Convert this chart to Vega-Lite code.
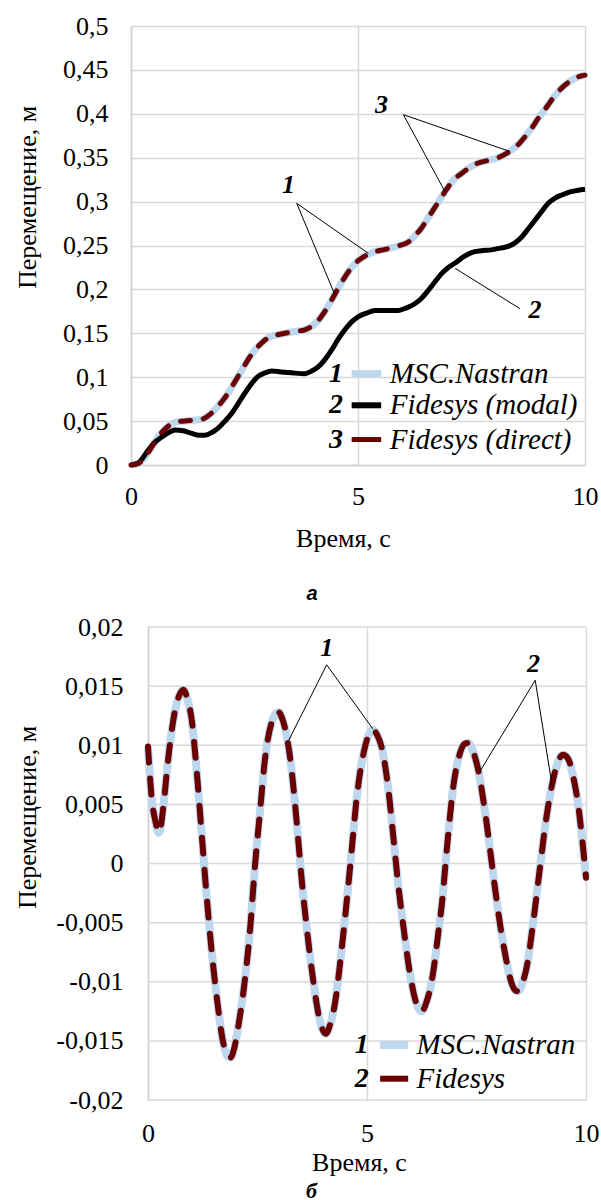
{
"$schema":"https://vega.github.io/schema/vega-lite/v6.json",
"background":"white",
"padding":{"left":14,"top":13,"right":0,"bottom":0},
"config":{
 "font":"Liberation Serif",
 "view":{"stroke":null},
 "style":{"guide-label":{"font":"Liberation Serif"},"guide-title":{"font":"Liberation Serif"}},
 "axis":{"labelFont":"Liberation Serif","labelFontSize":26,"labelColor":"#000000","titleFont":"Liberation Serif","titleFontSize":26,"titleFontWeight":"normal","titleColor":"#000000","ticks":false,"gridColor":"#d9d9d9","gridWidth":1.5,"domainColor":"#d0d0d0","domainWidth":1.5,"labelFlush":false,"labelOverlap":false}
},
"datasets":{
 "top13":[
  {"t":0,"nastran":0,"direct":0},{"t":0.15,"nastran":0.0015,"direct":0.0015},{"t":0.31,"nastran":0.009,"direct":0.009},{"t":0.45,"nastran":0.02,"direct":0.02},{"t":0.6,"nastran":0.032,"direct":0.032},{"t":0.75,"nastran":0.041,"direct":0.041},{"t":0.9,"nastran":0.047,"direct":0.047},{"t":1.05,"nastran":0.0495,"direct":0.0495},{"t":1.19,"nastran":0.05,"direct":0.05},{"t":1.37,"nastran":0.051,"direct":0.051},{"t":1.56,"nastran":0.052,"direct":0.052},{"t":1.7,"nastran":0.056,"direct":0.056},{"t":1.85,"nastran":0.063,"direct":0.063},{"t":2.0,"nastran":0.072,"direct":0.072},{"t":2.14,"nastran":0.082,"direct":0.082},{"t":2.29,"nastran":0.095,"direct":0.095},{"t":2.44,"nastran":0.108,"direct":0.108},{"t":2.58,"nastran":0.12,"direct":0.12},{"t":2.73,"nastran":0.131,"direct":0.131},{"t":2.88,"nastran":0.139,"direct":0.139},{"t":3.02,"nastran":0.145,"direct":0.145},{"t":3.2,"nastran":0.148,"direct":0.148},{"t":3.39,"nastran":0.15,"direct":0.15},{"t":3.6,"nastran":0.152,"direct":0.152},{"t":3.83,"nastran":0.154,"direct":0.154},{"t":3.98,"nastran":0.158,"direct":0.158},{"t":4.13,"nastran":0.165,"direct":0.165},{"t":4.27,"nastran":0.175,"direct":0.175},{"t":4.42,"nastran":0.188,"direct":0.188},{"t":4.56,"nastran":0.201,"direct":0.201},{"t":4.71,"nastran":0.214,"direct":0.214},{"t":4.86,"nastran":0.225,"direct":0.225},{"t":5.01,"nastran":0.233,"direct":0.233},{"t":5.19,"nastran":0.239,"direct":0.239},{"t":5.37,"nastran":0.243,"direct":0.243},{"t":5.55,"nastran":0.245,"direct":0.245},{"t":5.74,"nastran":0.2475,"direct":0.2475},{"t":5.92,"nastran":0.25,"direct":0.25},{"t":6.11,"nastran":0.254,"direct":0.254},{"t":6.25,"nastran":0.261,"direct":0.261},{"t":6.4,"nastran":0.27,"direct":0.27},{"t":6.55,"nastran":0.282,"direct":0.282},{"t":6.7,"nastran":0.294,"direct":0.294},{"t":6.85,"nastran":0.306,"direct":0.306},{"t":6.99,"nastran":0.317,"direct":0.317},{"t":7.13,"nastran":0.326,"direct":0.326},{"t":7.28,"nastran":0.332,"direct":0.332},{"t":7.46,"nastran":0.339,"direct":0.339},{"t":7.65,"nastran":0.344,"direct":0.344},{"t":7.87,"nastran":0.347,"direct":0.347},{"t":8.09,"nastran":0.35,"direct":0.35},{"t":8.24,"nastran":0.354,"direct":0.354},{"t":8.39,"nastran":0.359,"direct":0.359},{"t":8.53,"nastran":0.365,"direct":0.365},{"t":8.68,"nastran":0.374,"direct":0.374},{"t":8.83,"nastran":0.384,"direct":0.384},{"t":8.97,"nastran":0.395,"direct":0.395},{"t":9.16,"nastran":0.408,"direct":0.408},{"t":9.34,"nastran":0.421,"direct":0.421},{"t":9.52,"nastran":0.431,"direct":0.431},{"t":9.7,"nastran":0.438,"direct":0.438},{"t":9.85,"nastran":0.442,"direct":0.442},{"t":10,"nastran":0.444,"direct":0.444}
 ],
 "top2":[
  {"t":0,"modal":0},{"t":0.15,"modal":0.002},{"t":0.38,"modal":0.017},{"t":0.53,"modal":0.026},{"t":0.68,"modal":0.032},{"t":0.83,"modal":0.037},{"t":0.97,"modal":0.04},{"t":1.15,"modal":0.039},{"t":1.34,"modal":0.036},{"t":1.5,"modal":0.034},{"t":1.63,"modal":0.034},{"t":1.78,"modal":0.037},{"t":1.92,"modal":0.042},{"t":2.07,"modal":0.05},{"t":2.22,"modal":0.059},{"t":2.36,"modal":0.07},{"t":2.51,"modal":0.082},{"t":2.66,"modal":0.093},{"t":2.8,"modal":0.101},{"t":2.95,"modal":0.105},{"t":3.1,"modal":0.107},{"t":3.3,"modal":0.106},{"t":3.54,"modal":0.105},{"t":3.83,"modal":0.104},{"t":3.98,"modal":0.107},{"t":4.13,"modal":0.112},{"t":4.27,"modal":0.12},{"t":4.42,"modal":0.131},{"t":4.56,"modal":0.143},{"t":4.71,"modal":0.154},{"t":4.86,"modal":0.163},{"t":5.01,"modal":0.169},{"t":5.19,"modal":0.173},{"t":5.37,"modal":0.176},{"t":5.6,"modal":0.176},{"t":5.89,"modal":0.176},{"t":6.07,"modal":0.179},{"t":6.26,"modal":0.184},{"t":6.4,"modal":0.19},{"t":6.55,"modal":0.199},{"t":6.7,"modal":0.209},{"t":6.84,"modal":0.218},{"t":6.99,"modal":0.225},{"t":7.14,"modal":0.23},{"t":7.32,"modal":0.237},{"t":7.5,"modal":0.242},{"t":7.72,"modal":0.244},{"t":7.94,"modal":0.245},{"t":8.13,"modal":0.247},{"t":8.31,"modal":0.249},{"t":8.46,"modal":0.253},{"t":8.61,"modal":0.26},{"t":8.75,"modal":0.269},{"t":8.9,"modal":0.279},{"t":9.05,"modal":0.289},{"t":9.19,"modal":0.298},{"t":9.34,"modal":0.304},{"t":9.49,"modal":0.3075},{"t":9.67,"modal":0.311},{"t":9.85,"modal":0.313},{"t":10,"modal":0.314}
 ],
 "topann":[
  {"x1":3.65,"y1":0.298,"x2":4.49,"y2":0.194},{"x1":3.65,"y1":0.298,"x2":5.23,"y2":0.241},
  {"x1":6.0,"y1":0.399,"x2":6.92,"y2":0.311},{"x1":6.0,"y1":0.399,"x2":8.35,"y2":0.357},
  {"x1":8.57,"y1":0.178,"x2":7.14,"y2":0.224}
 ],
 "toplab":[{"n":"1","x":3.47,"y":0.319},{"n":"3","x":5.52,"y":0.41},{"n":"2","x":8.9,"y":0.177}],
 "topleg":[{"k":"1","label":"MSC.Nastran","y":0.104},{"k":"2","label":"Fidesys (modal)","y":0.068},{"k":"3","label":"Fidesys (direct)","y":0.029}],
 "botgrid":[{"y":-0.02},{"y":-0.015},{"y":-0.01},{"y":-0.005},{"y":0},{"y":0.005},{"y":0.01},{"y":0.015},{"y":0.02}],
 "bot":[
  {"t":0,"nastran":0.0099,"fidesys":0.0099},{"t":0.08,"nastran":0.0057,"fidesys":0.0057},{"t":0.18,"nastran":0.0034,"fidesys":0.0034},{"t":0.24,"nastran":0.0026,"fidesys":0.0026},{"t":0.3,"nastran":0.0033,"fidesys":0.0033},{"t":0.35,"nastran":0.0048,"fidesys":0.0048},{"t":0.46,"nastran":0.0088,"fidesys":0.0088},{"t":0.54,"nastran":0.0112,"fidesys":0.0112},{"t":0.62,"nastran":0.013,"fidesys":0.013},{"t":0.71,"nastran":0.0142,"fidesys":0.0142},{"t":0.81,"nastran":0.0147,"fidesys":0.0147},{"t":0.9,"nastran":0.0139,"fidesys":0.0139},{"t":1.0,"nastran":0.0121,"fidesys":0.0121},{"t":1.11,"nastran":0.0079,"fidesys":0.0079},{"t":1.23,"nastran":0.0023,"fidesys":0.0023},{"t":1.34,"nastran":-0.0028,"fidesys":-0.0028},{"t":1.45,"nastran":-0.0073,"fidesys":-0.0073},{"t":1.57,"nastran":-0.0113,"fidesys":-0.0113},{"t":1.72,"nastran":-0.0152,"fidesys":-0.0152},{"t":1.8,"nastran":-0.0162,"fidesys":-0.0162},{"t":1.89,"nastran":-0.0164,"fidesys":-0.0164},{"t":1.97,"nastran":-0.0156,"fidesys":-0.0156},{"t":2.06,"nastran":-0.0138,"fidesys":-0.0138},{"t":2.21,"nastran":-0.0099,"fidesys":-0.0099},{"t":2.33,"nastran":-0.0056,"fidesys":-0.0056},{"t":2.44,"nastran":-0.0003,"fidesys":-0.0003},{"t":2.56,"nastran":0.0045,"fidesys":0.0045},{"t":2.67,"nastran":0.0088,"fidesys":0.0088},{"t":2.82,"nastran":0.0119,"fidesys":0.0119},{"t":2.9,"nastran":0.0126,"fidesys":0.0126},{"t":2.98,"nastran":0.0128,"fidesys":0.0128},{"t":3.07,"nastran":0.0122,"fidesys":0.0122},{"t":3.17,"nastran":0.0107,"fidesys":0.0107},{"t":3.26,"nastran":0.0085,"fidesys":0.0085},{"t":3.39,"nastran":0.0037,"fidesys":0.0037},{"t":3.51,"nastran":-0.0014,"fidesys":-0.0014},{"t":3.62,"nastran":-0.0053,"fidesys":-0.0053},{"t":3.74,"nastran":-0.009,"fidesys":-0.009},{"t":3.89,"nastran":-0.0127,"fidesys":-0.0127},{"t":3.97,"nastran":-0.0139,"fidesys":-0.0139},{"t":4.06,"nastran":-0.0144,"fidesys":-0.0144},{"t":4.16,"nastran":-0.0136,"fidesys":-0.0136},{"t":4.27,"nastran":-0.0118,"fidesys":-0.0118},{"t":4.42,"nastran":-0.0073,"fidesys":-0.0073},{"t":4.54,"nastran":-0.0031,"fidesys":-0.0031},{"t":4.65,"nastran":0.0011,"fidesys":0.0011},{"t":4.76,"nastran":0.0054,"fidesys":0.0054},{"t":4.92,"nastran":0.0093,"fidesys":0.0093},{"t":5.03,"nastran":0.0108,"fidesys":0.0108},{"t":5.14,"nastran":0.0113,"fidesys":0.0113},{"t":5.24,"nastran":0.0108,"fidesys":0.0108},{"t":5.33,"nastran":0.0099,"fidesys":0.0099},{"t":5.49,"nastran":0.0062,"fidesys":0.0062},{"t":5.6,"nastran":0.0023,"fidesys":0.0023},{"t":5.71,"nastran":-0.0017,"fidesys":-0.0017},{"t":5.83,"nastran":-0.0053,"fidesys":-0.0053},{"t":5.98,"nastran":-0.0093,"fidesys":-0.0093},{"t":6.1,"nastran":-0.0115,"fidesys":-0.0115},{"t":6.18,"nastran":-0.0123,"fidesys":-0.0123},{"t":6.25,"nastran":-0.0125,"fidesys":-0.0125},{"t":6.35,"nastran":-0.0118,"fidesys":-0.0118},{"t":6.48,"nastran":-0.0099,"fidesys":-0.0099},{"t":6.55,"nastran":-0.0082,"fidesys":-0.0082},{"t":6.63,"nastran":-0.0058,"fidesys":-0.0058},{"t":6.71,"nastran":-0.0034,"fidesys":-0.0034},{"t":6.82,"nastran":0.0011,"fidesys":0.0011},{"t":6.97,"nastran":0.0065,"fidesys":0.0065},{"t":7.12,"nastran":0.0093,"fidesys":0.0093},{"t":7.22,"nastran":0.0101,"fidesys":0.0101},{"t":7.31,"nastran":0.0102,"fidesys":0.0102},{"t":7.42,"nastran":0.0095,"fidesys":0.0095},{"t":7.54,"nastran":0.0079,"fidesys":0.0079},{"t":7.69,"nastran":0.0045,"fidesys":0.0045},{"t":7.85,"nastran":0.0,"fidesys":0.0},{"t":8.0,"nastran":-0.0042,"fidesys":-0.0042},{"t":8.15,"nastran":-0.0076,"fidesys":-0.0076},{"t":8.3,"nastran":-0.0101,"fidesys":-0.0101},{"t":8.38,"nastran":-0.0107,"fidesys":-0.0107},{"t":8.45,"nastran":-0.0108,"fidesys":-0.0108},{"t":8.55,"nastran":-0.0101,"fidesys":-0.0101},{"t":8.65,"nastran":-0.0087,"fidesys":-0.0087},{"t":8.8,"nastran":-0.0048,"fidesys":-0.0048},{"t":8.95,"nastran":-0.0003,"fidesys":-0.0003},{"t":9.1,"nastran":0.004,"fidesys":0.004},{"t":9.25,"nastran":0.0071,"fidesys":0.0071},{"t":9.37,"nastran":0.0087,"fidesys":0.0087},{"t":9.48,"nastran":0.0092,"fidesys":0.0092},{"t":9.6,"nastran":0.0088,"fidesys":0.0088},{"t":9.71,"nastran":0.0073,"fidesys":0.0073},{"t":9.8,"nastran":0.0055,"fidesys":0.0055},{"t":9.9,"nastran":0.0025,"fidesys":0.0025},{"t":10,"nastran":-0.0012,"fidesys":-0.0012}
 ],
 "botann":[
  {"x1":4.08,"y1":0.0168,"x2":3.21,"y2":0.0104},{"x1":4.08,"y1":0.0168,"x2":5.13,"y2":0.0114},
  {"x1":8.84,"y1":0.0155,"x2":7.58,"y2":0.0078},{"x1":8.84,"y1":0.0155,"x2":9.23,"y2":0.0065}
 ],
 "botlab":[{"n":"1","x":4.08,"y":0.0182},{"n":"2","x":8.8,"y":0.0169}],
 "botleg":[{"k":"1","label":"MSC.Nastran","y":-0.01535},{"k":"2","label":"Fidesys","y":-0.0182}]
},
"vconcat":[
 {
  "width":454,"height":439,
  "title":{"text":"а","orient":"bottom","anchor":"middle","frame":"group","font":"Liberation Sans","fontSize":20,"fontStyle":"italic","fontWeight":"bold","color":"#000000","dx":-46,"offset":33},
  "layer":[
   {"data":{"name":"top13"},"mark":{"type":"line","color":"#bdd7ee","strokeWidth":7,"interpolate":"monotone"},
    "encoding":{
     "x":{"field":"t","type":"quantitative","title":"Время, с","scale":{"domain":[0,10],"nice":false},"axis":{"values":[0,5,10],"grid":true,"labelFont":"Liberation Serif","titleFont":"Liberation Serif","labelPadding":18,"titleX":212,"titleY":73,"titleBaseline":"middle","titleAlign":"center"}},
     "y":{"field":"nastran","type":"quantitative","title":"Перемещение, м","scale":{"domain":[0,0.5],"nice":false},"axis":{"values":[0,0.05,0.1,0.15,0.2,0.25,0.3,0.35,0.4,0.45,0.5],"grid":true,"labelFont":"Liberation Serif","titleFont":"Liberation Serif","labelExpr":"replace(toString(datum.value),'.',',')","labelPadding":23,"titleAngle":270,"titleX":-104,"titleY":171,"titleBaseline":"middle","titleAlign":"center"}}}},
   {"data":{"name":"top2"},"mark":{"type":"line","color":"#000000","strokeWidth":5,"interpolate":"monotone"},
    "encoding":{"x":{"field":"t","type":"quantitative","title":"Время, с"},"y":{"field":"modal","type":"quantitative","title":"Перемещение, м"}}},
   {"data":{"name":"top13"},"mark":{"type":"line","color":"#6b0000","strokeWidth":5,"strokeDash":[10,13],"strokeCap":"round","interpolate":"monotone"},
    "encoding":{"x":{"field":"t","type":"quantitative","title":"Время, с"},"y":{"field":"direct","type":"quantitative","title":"Перемещение, м"}}},
   {"data":{"name":"topann"},"mark":{"type":"rule","color":"#000000","strokeWidth":1},
    "encoding":{"x":{"field":"x1","type":"quantitative","title":"Время, с"},"y":{"field":"y1","type":"quantitative","title":"Перемещение, м"},"x2":{"field":"x2"},"y2":{"field":"y2"}}},
   {"data":{"name":"toplab"},"mark":{"type":"text","font":"Liberation Serif","fontSize":26,"fontStyle":"italic","fontWeight":"bold","color":"#000000","align":"center","baseline":"middle"},
    "encoding":{"x":{"field":"x","type":"quantitative","title":"Время, с"},"y":{"field":"y","type":"quantitative","title":"Перемещение, м"},"text":{"field":"n"}}},
   {"data":{"name":"topleg"},"mark":{"type":"rule"},
    "encoding":{"x":{"datum":4.86,"type":"quantitative","title":"Время, с"},"x2":{"datum":5.51},"y":{"field":"y","type":"quantitative","title":"Перемещение, м"},
     "color":{"field":"k","type":"nominal","scale":{"domain":["1","2","3"],"range":["#bdd7ee","#000000","#6b0000"]},"legend":null},
     "size":{"field":"k","type":"ordinal","scale":{"domain":["1","2","3"],"range":[7,5,5]},"legend":null}}},
   {"data":{"name":"topleg"},"mark":{"type":"text","font":"Liberation Serif","fontSize":28,"fontStyle":"italic","fontWeight":"bold","color":"#000000","align":"right","baseline":"middle"},
    "encoding":{"x":{"datum":4.67,"type":"quantitative","title":"Время, с"},"y":{"field":"y","type":"quantitative","title":"Перемещение, м"},"text":{"field":"k"}}},
   {"data":{"name":"topleg"},"mark":{"type":"text","font":"Liberation Serif","fontSize":29,"fontStyle":"italic","color":"#000000","align":"left","baseline":"middle"},
    "encoding":{"x":{"datum":5.7,"type":"quantitative","title":"Время, с"},"y":{"field":"y","type":"quantitative","title":"Перемещение, м"},"text":{"field":"label"}}}
  ]
 },
 {
  "width":455,"height":473,
  "title":{"text":"б","orient":"bottom","anchor":"middle","frame":"group","font":"Liberation Serif","fontSize":22,"fontStyle":"italic","fontWeight":"bold","color":"#000000","dx":-47,"offset":6},
  "layer":[
   {"data":{"name":"botgrid"},"mark":{"type":"rule","color":"#d9d9d9","strokeWidth":1.5},
    "encoding":{"x":{"datum":0,"type":"quantitative","title":"Время, с","scale":{"domain":[-0.3881,10],"nice":false,"zero":false},"axis":{"values":[0,5,10],"grid":true,"domain":false,"labelFont":"Liberation Serif","titleFont":"Liberation Serif","labelPadding":20,"titleX":228,"titleY":62,"titleBaseline":"middle","titleAlign":"center"}},"x2":{"datum":10},
     "y":{"field":"y","type":"quantitative","title":"Перемещение, м","scale":{"domain":[-0.02,0.02],"nice":false},"axis":{"values":[-0.02,-0.015,-0.01,-0.005,0,0.005,0.01,0.015,0.02],"grid":false,"offset":-17,"labelFont":"Liberation Serif","titleFont":"Liberation Serif","labelExpr":"replace(toString(datum.value),'.',',')","labelPadding":25,"titleAngle":270,"titleX":-121,"titleY":190,"titleBaseline":"middle","titleAlign":"center"}}}},
   {"data":{"name":"bot"},"mark":{"type":"line","color":"#bdd7ee","strokeWidth":8,"interpolate":"monotone"},
    "encoding":{"x":{"field":"t","type":"quantitative","title":"Время, с"},"y":{"field":"nastran","type":"quantitative","title":"Перемещение, м"}}},
   {"data":{"name":"bot"},"mark":{"type":"line","color":"#6b0000","strokeWidth":6,"strokeDash":[16,16],"strokeCap":"round","interpolate":"monotone"},
    "encoding":{"x":{"field":"t","type":"quantitative","title":"Время, с"},"y":{"field":"fidesys","type":"quantitative","title":"Перемещение, м"}}},
   {"data":{"name":"botann"},"mark":{"type":"rule","color":"#000000","strokeWidth":1},
    "encoding":{"x":{"field":"x1","type":"quantitative","title":"Время, с"},"y":{"field":"y1","type":"quantitative","title":"Перемещение, м"},"x2":{"field":"x2"},"y2":{"field":"y2"}}},
   {"data":{"name":"botlab"},"mark":{"type":"text","font":"Liberation Serif","fontSize":26,"fontStyle":"italic","fontWeight":"bold","color":"#000000","align":"center","baseline":"middle"},
    "encoding":{"x":{"field":"x","type":"quantitative","title":"Время, с"},"y":{"field":"y","type":"quantitative","title":"Перемещение, м"},"text":{"field":"n"}}},
   {"data":{"name":"botleg"},"mark":{"type":"rule"},
    "encoding":{"x":{"datum":5.3,"type":"quantitative","title":"Время, с"},"x2":{"datum":5.94},"y":{"field":"y","type":"quantitative","title":"Перемещение, м"},
     "color":{"field":"k","type":"nominal","scale":{"domain":["1","2"],"range":["#bdd7ee","#6b0000"]},"legend":null},
     "size":{"field":"k","type":"ordinal","scale":{"domain":["1","2"],"range":[8,6]},"legend":null}}},
   {"data":{"name":"botleg"},"mark":{"type":"text","font":"Liberation Serif","fontSize":28,"fontStyle":"italic","fontWeight":"bold","color":"#000000","align":"right","baseline":"middle"},
    "encoding":{"x":{"datum":5.04,"type":"quantitative","title":"Время, с"},"y":{"field":"y","type":"quantitative","title":"Перемещение, м"},"text":{"field":"k"}}},
   {"data":{"name":"botleg"},"mark":{"type":"text","font":"Liberation Serif","fontSize":29,"fontStyle":"italic","color":"#000000","align":"left","baseline":"middle"},
    "encoding":{"x":{"datum":6.13,"type":"quantitative","title":"Время, с"},"y":{"field":"y","type":"quantitative","title":"Перемещение, м"},"text":{"field":"label"}}}
  ]
 }
],
"spacing":10,
"resolve":{"scale":{"x":"independent","y":"independent","color":"independent","size":"independent"}}
}
